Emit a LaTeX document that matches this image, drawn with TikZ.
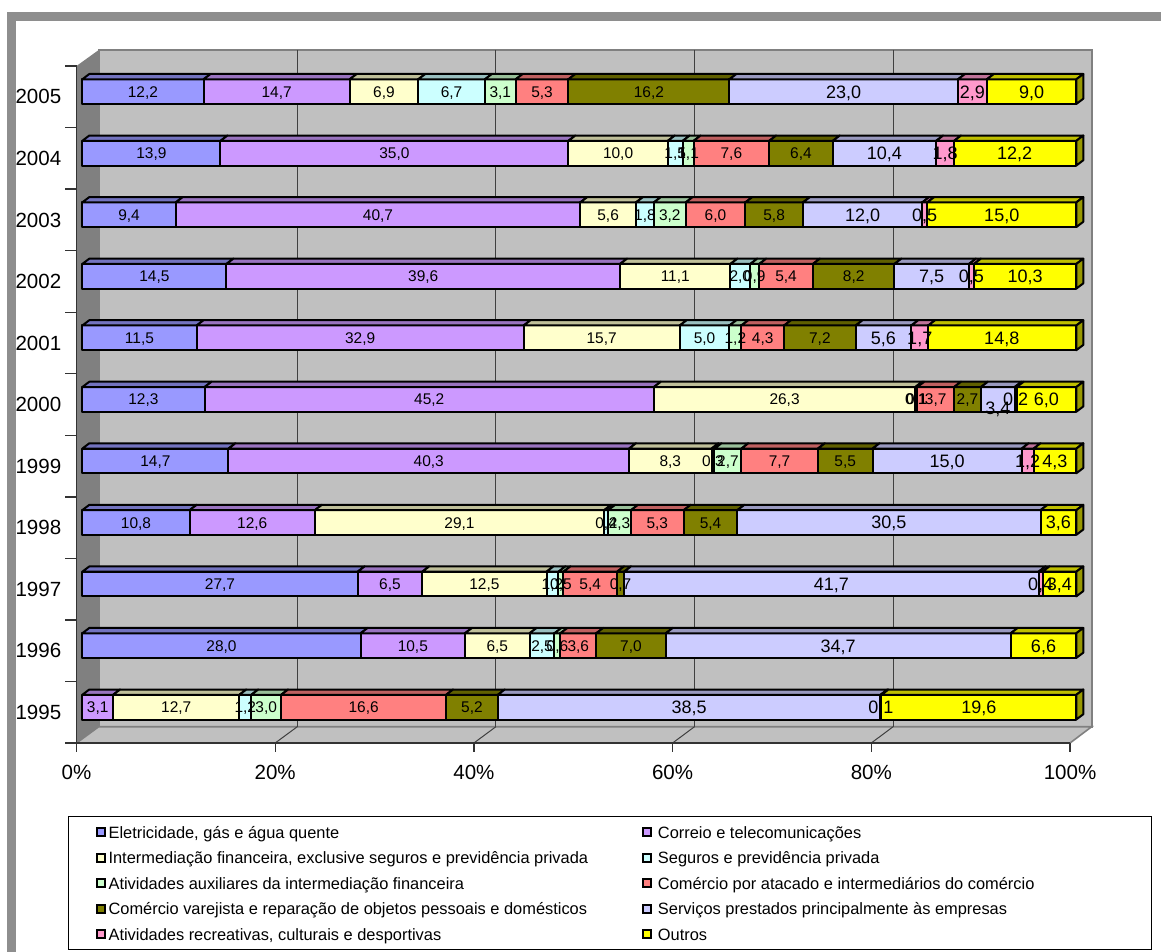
\documentclass[tikz,border=0pt]{standalone}
\usepackage{fontspec}
\setmainfont{Liberation Sans}
\definecolor{s1}{HTML}{9999FF}
\definecolor{s2}{HTML}{CC99FF}
\definecolor{s3}{HTML}{FFFFCC}
\definecolor{s4}{HTML}{CCFFFF}
\definecolor{s5}{HTML}{CCFFCC}
\definecolor{s6}{HTML}{FF8080}
\definecolor{s7}{HTML}{808000}
\definecolor{s8}{HTML}{CCCCFF}
\definecolor{s9}{HTML}{FF99CC}
\definecolor{s10}{HTML}{FFFF00}
\definecolor{wallc}{HTML}{C0C0C0}
\definecolor{sidec}{HTML}{808080}
\definecolor{framec}{HTML}{8E8E8E}
\tikzset{
  barline/.style={draw=black, line width=1.5pt, line join=round},
  grid/.style={draw=black!75, line width=0.75pt},
  smalllab/.style={font=\fontsize{11.6}{13}\selectfont, inner sep=0pt, anchor=base},
  biglab/.style={font=\fontsize{13.5}{15}\selectfont, inner sep=0pt, anchor=base},
  axislab/.style={font=\fontsize{15.4}{17}\selectfont, inner sep=0pt, anchor=base},
  legtext/.style={font=\fontsize{12.3}{14}\selectfont, inner sep=0pt, anchor=base west},
  legmark/.style={draw=black, line width=1.5pt, minimum size=6pt, inner sep=0pt}
}
\pgfkeys{/pgf/number format/.cd, fixed, fixed zerofill, precision=1, use comma, assume math mode=true}
\def\chartdata{0/{12.2,14.7,6.9,6.7,3.1,5.3,16.2,23.0,2.9,9.0},
1/{13.9,35.0,10.0,1.5,1.1,7.6,6.4,10.4,1.8,12.2},
2/{9.4,40.7,5.6,1.8,3.2,6.0,5.8,12.0,0.5,15.0},
3/{14.5,39.6,11.1,2.0,0.9,5.4,8.2,7.5,0.5,10.3},
4/{11.5,32.9,15.7,5.0,1.2,4.3,7.2,5.6,1.7,14.8},
5/{12.3,45.2,26.3,0.1,0.1,3.7,2.7,3.4,0.2,6.0},
6/{14.7,40.3,8.3,0.3,2.7,7.7,5.5,15.0,1.2,4.3},
7/{10.8,12.6,29.1,0.4,2.3,5.3,5.4,30.5,0,3.6},
8/{27.7,6.5,12.5,1.2,0.5,5.4,0.7,41.7,0.4,3.4},
9/{28.0,10.5,6.5,2.5,0.6,3.6,7.0,34.7,0,6.6},
10/{0,3.1,12.7,1.2,3.0,16.6,5.2,38.5,0.1,19.6}}
\begin{document}
\begin{tikzpicture}[x=0.75pt,y=-0.75pt]
\useasboundingbox (0,0) rectangle (1161,952);
\fill[white] (0,0) rectangle (1161,952);
% outer frame band
\fill[framec] (7,12) rectangle (1161,21);
\fill[framec] (7,12) rectangle (16,952);
% walls
\filldraw[fill=wallc, draw=sidec, line width=1.2pt] (98.7,50) rectangle (1091.7,726.7);
\fill[sidec] (76.5,66) -- (98.7,50) -- (98.7,726.7) -- (76.5,743) -- cycle;
\filldraw[fill=wallc, draw=sidec, line width=1.2pt] (76.5,743) -- (98.7,726.7) -- (1091.7,726.7) -- (1070,743) -- cycle;
\foreach \j in {1,2,3,4}{
  \draw[grid] (98.7+198.6*\j,50) -- (98.7+198.6*\j,726.7);
  \draw[grid] (76.5+198.7*\j,743) -- (98.7+198.6*\j,726.7);
}
% axes
\draw[black!80, line width=1pt] (76.5,66) -- (76.5,743) -- (1070,743);
\foreach \k in {0,...,11}{
  \draw[black!80, line width=1pt] (65,66+\k*61.55) -- (76.5,66+\k*61.55);
}
\foreach \j/\t in {0/0\%,1/20\%,2/40\%,3/60\%,4/80\%,5/100\%}{
  \draw[black!80, line width=1pt] (76.5+198.7*\j,743) -- (76.5+198.7*\j,752);
  \node[axislab] (px\j) at (76.5+198.7*\j,779.3) {\t};
}
\foreach \k/\yr in {0/2005,1/2004,2/2003,3/2002,4/2001,5/2000,6/1999,7/1998,8/1997,9/1996,10/1995}{
  \node[axislab, anchor=base east] (yr\k) at (61.5,104+\k*61.55) {\yr};
}
% bars
\foreach \k/\data in \chartdata {
  \pgfmathsetmacro\yt{79.3+\k*61.55}
  \pgfmathsetmacro\yb{\yt+24.7}
  \xdef\cprev{0}
  \foreach \v [count=\i] in \data {
    \pgfmathsetmacro\cnew{\cprev+\v}
    \ifnum\i=10 \def\cnew{100}\fi
    \pgfmathsetmacro\xa{82.3+9.94*\cprev}
    \pgfmathsetmacro\xb{82.3+9.94*\cnew}
    \ifdim\v pt>0pt
      \filldraw[barline, fill=s\i] (\xa,\yt) rectangle (\xb,\yb);
      \filldraw[barline, fill=s\i!75!black] (\xa,\yt) -- (\xa+7,\yt-5.3) -- (\xb+7,\yt-5.3) -- (\xb,\yt) -- cycle;
      \ifnum\i=10
        \filldraw[barline, fill=s\i!60!black] (\xb,\yt) -- (\xb+7,\yt-5.3) -- (\xb+7,\yb-5.3) -- (\xb,\yb) -- cycle;
      \fi
    \fi
    \xdef\cprev{\cnew}
  }
}
% labels
\foreach \k/\data in \chartdata {
  \pgfmathsetmacro\yc{79.3+\k*61.55+12.35}
  \xdef\cprev{0}
  \foreach \v [count=\i] in \data {
    \pgfmathsetmacro\cnew{\cprev+\v}
    \pgfmathsetmacro\xc{82.3+9.94*(\cprev+\cnew)/2}
    \ifdim\v pt>0pt
      \ifnum\i>7
        \def\dy{6.4}
        \ifnum\k=5 \ifnum\i=8 \def\dy{15.5}\fi\fi
        \node[biglab] (l-\k-\i) at (\xc,\yc+\dy) {\pgfmathprintnumber{\v}};
      \else
        \node[smalllab] (l-\k-\i) at (\xc,\yc+5.5) {\pgfmathprintnumber{\v}};
      \fi
    \fi
    \xdef\cprev{\cnew}
  }
}
% legend
\draw[black, line width=0.75pt] (68,816) rectangle (1151,949);
\foreach \r/\ta/\tb in {
  1/Eletricidade{,} gás e água quente/Correio e telecomunicações,
  2/Intermediação financeira{,} exclusive seguros e previdência privada/Seguros e previdência privada,
  3/Atividades auxiliares da intermediação financeira/Comércio por atacado e intermediários do comércio,
  4/Comércio varejista e reparação de objetos pessoais e domésticos/Serviços prestados principalmente às empresas,
  5/Atividades recreativas{,} culturais e desportivas/Outros}{
  \pgfmathtruncatemacro\ca{2*\r-1}
  \pgfmathtruncatemacro\cb{2*\r}
  \pgfmathsetmacro\ly{832.3+(\r-1)*25.5}
  \node[legmark, fill=s\ca] (m\ca) at (101.3,\ly) {};
  \node[legtext] (t\ca) at (108.3,\ly+5.9) {\ta};
  \node[legmark, fill=s\cb] (m\cb) at (647.3,\ly) {};
  \node[legtext] (t\cb) at (657.7,\ly+5.9) {\tb};
}
\end{tikzpicture}
\end{document}
